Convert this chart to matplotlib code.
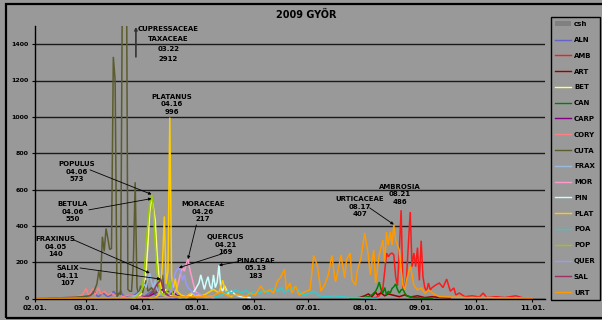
"""Daily pollen concentrations, Győr 2009."""

import matplotlib
matplotlib.use('Agg')
import matplotlib.pyplot as plt
from matplotlib.lines import Line2D
from matplotlib.patches import Patch, Rectangle

# --- data (day of year -> pollen grains / m3) ---------------------------------
aln_days = [40, 50, 58, 60, 62, 63, 64, 65, 66, 67, 68, 69, 70, 72, 74, 75, 76, 77, 78, 79,
            80, 82, 84, 86, 88, 90, 92, 94, 96, 98, 100, 104, 110]
aln = [2, 5, 5, 5, 10, 25, 40, 35, 15, 10, 20, 35, 25, 10, 20, 40, 30, 15, 20, 45,
       20, 10, 20, 15, 30, 20, 10, 25, 40, 20, 10, 5, 0]

amb_days = [215, 219, 221, 223, 224, 225, 226, 227, 228, 229, 230, 231, 232, 233, 234, 235,
            236, 237, 238, 239, 240, 241, 242, 243, 244, 245, 246, 247, 248, 249, 250, 252,
            254, 256, 258, 259, 260, 262, 263, 265, 268, 272, 276, 278, 280, 285, 290, 296,
            300, 305]
amb = [2, 5, 15, 60, 150, 250, 230, 245, 250, 240, 120, 70, 260, 486, 60, 60,
       120, 300, 476, 175, 250, 175, 280, 100, 318, 120, 60, 40, 85, 47, 60, 74,
       85, 60, 107, 74, 40, 58, 20, 30, 10, 15, 8, 30, 5, 10, 5, 15,
       3, 2]

art_days = [205, 210, 213, 215, 217, 219, 220, 222, 224, 226, 228, 230, 232, 235, 238, 242,
            246, 250, 255, 260]
art = [2, 5, 15, 25, 10, 35, 20, 30, 15, 25, 20, 15, 10, 20, 8, 15,
       5, 10, 5, 3]

bet_days = [86, 88, 90, 92, 93, 94, 95, 96, 97, 98, 99, 100, 101, 102, 104, 106, 108, 112]
bet = [0, 10, 20, 60, 150, 300, 480, 550, 500, 430, 250, 120, 60, 30, 50, 20, 10, 5]

can_days = [205, 212, 215, 217, 219, 220, 221, 222, 223, 224, 225, 226, 227, 228, 229, 230,
            231, 232, 233, 234, 235, 236, 238, 240, 245, 250]
can = [0, 5, 10, 20, 40, 60, 90, 50, 30, 60, 20, 40, 30, 55, 65, 80,
       50, 30, 47, 52, 30, 15, 10, 5, 2, 0]

carp_days = [90, 95, 98, 100, 102, 103, 105, 108, 110, 112, 115]
carp = [5, 15, 30, 40, 50, 30, 20, 35, 15, 10, 5]

cory_days = [45, 50, 55, 58, 60, 61, 62, 63, 64, 65, 66, 67, 68, 70, 72, 74, 76, 78, 80, 84, 88, 92]
cory = [0, 5, 10, 20, 55, 30, 10, 45, 55, 20, 35, 60, 25, 40, 20, 30, 15, 25, 10, 20, 10, 5]

cuta_days = [32, 40, 50, 58, 62, 64, 66, 67, 68, 69, 70, 71, 72, 73, 74, 75, 76, 77, 78, 79,
             80, 81, 82, 83, 84, 85, 86, 87, 88, 89, 90, 91, 93, 94, 96, 98, 100, 102, 103,
             105, 108, 112, 120]
cuta = [0, 2, 5, 10, 15, 30, 80, 150, 100, 340, 260, 385, 330, 270, 275, 1330, 1200, 10, 30, 20,
        1800, 2912, 2400, 50, 40, 40, 200, 640, 60, 20, 70, 30, 100, 40, 60, 25, 90, 130, 30,
        40, 15, 10, 0]

frax_days = [85, 88, 90, 92, 93, 94, 95, 96, 97, 98, 99, 100, 102, 104, 108]
frax = [5, 20, 40, 80, 60, 110, 140, 90, 60, 100, 50, 30, 20, 10, 5]

mor_days = [105, 108, 110, 112, 113, 114, 115, 116, 117, 118, 119, 120, 122, 125, 130]
mor = [5, 20, 60, 140, 170, 150, 190, 217, 160, 120, 80, 40, 20, 10, 5]

pin_days = [115, 118, 120, 122, 123, 124, 125, 126, 127, 128, 129, 130, 131, 132, 133, 134,
            135, 136, 137, 138, 140, 142, 145, 150]
pin = [5, 20, 50, 85, 130, 90, 50, 90, 120, 70, 50, 130, 60, 90, 183, 60,
       40, 70, 50, 30, 40, 20, 10, 5]

plat_days = [95, 98, 100, 101, 102, 103, 104, 105, 106, 107, 108, 109, 110, 112, 115, 118,
             120, 125, 130, 133, 135, 136, 138, 140]
plat = [0, 5, 20, 60, 200, 452, 80, 150, 996, 120, 60, 110, 40, 20, 10, 30,
        15, 20, 50, 30, 100, 60, 20, 10]

poa_days = [130, 135, 138, 140, 142, 145, 148, 150, 152, 155, 158, 160, 162, 165, 167, 169,
            172, 175, 178, 180, 183, 185, 188, 192, 196, 200, 205, 210, 220]
poa = [5, 20, 40, 30, 50, 30, 45, 25, 40, 30, 45, 30, 55, 40, 60, 35,
       50, 65, 30, 20, 30, 40, 15, 10, 15, 10, 5, 5, 0]

pop_days = [85, 88, 90, 91, 92, 93, 94, 95, 96, 97, 98, 99, 100, 101, 102, 104, 106, 107,
            108, 110, 115]
pop = [0, 10, 30, 60, 150, 300, 420, 520, 573, 480, 300, 150, 80, 40, 20, 30, 100, 40,
       20, 10, 5]

quer_days = [105, 107, 108, 109, 110, 111, 112, 113, 114, 115, 116, 118, 120, 122, 125, 130]
quer = [10, 50, 100, 140, 160, 169, 150, 100, 130, 80, 60, 40, 20, 30, 10, 5]

sal_days = [92, 95, 97, 98, 99, 100, 101, 102, 103, 104, 106, 110]
sal = [5, 20, 40, 60, 80, 90, 107, 70, 40, 25, 10, 5]

urt_days = [32, 60, 100, 110, 120, 130, 134, 138, 144, 148, 150, 153, 156, 158, 161, 163,
            165, 167, 169, 170, 172, 173, 175, 177, 180, 183, 185, 187, 189, 191, 193, 195,
            196, 197, 199, 200, 202, 203, 205, 206, 208, 209, 211, 212, 213, 215, 216, 217,
            218, 219, 221, 223, 224, 225, 226, 227, 228, 229, 230, 232, 233, 234, 235, 236,
            238, 239, 240, 242, 244, 246, 248, 251, 254, 260, 270, 280, 290, 305]
urt = [0, 2, 5, 8, 10, 15, 37, 15, 20, 10, 30, 20, 69, 35, 47, 30,
       93, 120, 160, 47, 85, 30, 69, 20, 36, 47, 237, 182, 40, 74, 130, 237,
       157, 91, 185, 240, 113, 212, 250, 102, 74, 157, 223, 295, 360, 240, 130, 200,
       267, 85, 240, 322, 200, 366, 295, 366, 295, 407, 322, 267, 157, 74, 47, 102,
       179, 130, 74, 47, 58, 30, 47, 25, 10, 8, 5, 5, 3, 3]

series = [
    ('ALN', aln_days, aln, '#6464c8'),
    ('AMB', amb_days, amb, '#ff1a1a'),
    ('ART', art_days, art, '#990000'),
    ('BET', bet_days, bet, '#ffff80'),
    ('CAN', can_days, can, '#008000'),
    ('CARP', carp_days, carp, '#800080'),
    ('CORY', cory_days, cory, '#ff8080'),
    ('CUTA', cuta_days, cuta, '#5c5c2e'),
    ('FRAX', frax_days, frax, '#99bbdd'),
    ('MOR', mor_days, mor, '#ff99cc'),
    ('PIN', pin_days, pin, '#ccffff'),
    ('PLAT', plat_days, plat, '#ffcc00'),
    ('POA', poa_days, poa, '#33cccc'),
    ('POP', pop_days, pop, '#99cc00'),
    ('QUER', quer_days, quer, '#9999ff'),
    ('SAL', sal_days, sal, '#993366'),
    ('URT', urt_days, urt, '#ff9900'),
]

month_days = [32, 60, 91, 121, 152, 182, 213, 244, 274, 305]
month_labels = ['02.01.', '03.01.', '04.01.', '05.01.', '06.01.', '07.01.', '08.01.',
                '09.01.', '10.01.', '11.01.']

# peak labels: name, date, value, day of peak
peak_names = ['CUPRESSACEAE\nTAXACEAE', 'PLATANUS', 'POPULUS', 'BETULA', 'FRAXINUS', 'SALIX',
              'MORACEAE', 'QUERCUS', 'PINACEAE', 'URTICACEAE', 'AMBROSIA']
peak_dates = ['03.22', '04.16', '04.06', '04.06', '04.05', '04.11', '04.26', '04.21', '05.13',
              '08.17', '08.21']
peak_values = [2912, 996, 573, 550, 140, 107, 217, 169, 183, 407, 486]
peak_days = [81, 106, 96, 96, 95, 101, 116, 111, 133, 229, 233]

BG = '#999999'
plt.rcParams['font.family'] = 'DejaVu Sans'
plt.rcParams['font.weight'] = 'bold'

fig = plt.figure(figsize=(6.02, 3.20), dpi=100, facecolor=BG)
ax = fig.add_axes([35 / 602, 21.5 / 320, 510 / 602, 272.5 / 320])
ax.set_facecolor(BG)

for name, d, v, c in series:
    ax.plot(d, v, color=c, lw=1.1, solid_joinstyle='miter')

ax.set_xlim(32, 312)
ax.set_ylim(0, 1500)
ax.set_xticks(month_days)
ax.set_xticklabels(month_labels)
ax.set_yticks(range(0, 1401, 200))
ax.tick_params(axis='x', labelsize=5, length=2.5, width=0.8, pad=2)
ax.tick_params(axis='y', labelsize=4.5, length=2.5, width=0.8, pad=2)
for lbl in ax.get_xticklabels() + ax.get_yticklabels():
    lbl.set_fontweight('bold')
ax.grid(True, axis='y', color='#1a1a1a', lw=1.0)
ax.set_axisbelow(True)
for side in ('top', 'right'):
    ax.spines[side].set_visible(False)
for side in ('left', 'bottom'):
    ax.spines[side].set_linewidth(1.0)
    ax.spines[side].set_color('black')

fig.text(306 / 602, 1 - 15 / 320, '2009 GYÖR', ha='center', va='center',
         fontsize=7, fontweight='bold')

# text block centres and arrow tails for the peak labels
text_pos = [(105.2, 1399), (107.0, 1070), (54.9, 697), (52.6, 478), (43.2, 285), (49.8, 124),
            (124.1, 478), (136.6, 295), (153.2, 166), (210.2, 506), (232.1, 574)]
arrow_tail = [(87.4, 1330), None, (62.2, 708), (61.6, 488), (53.4, 322), (56.7, 168),
              (120.6, 405), (134.4, 245), (143.8, 203), (215.7, 499), None]

for i, name in enumerate(peak_names):
    tx, ty = text_pos[i]
    spacing = 1.8 if i == 0 else 1.3
    ax.text(tx, ty, f'{name}\n{peak_dates[i]}\n{peak_values[i]}', ha='center', va='center',
            fontsize=5, fontweight='bold', linespacing=spacing)
    tail = arrow_tail[i]
    if tail is None:
        continue
    if i == 0:
        # the peak is above the axis, so the arrow points straight up
        tip = (tail[0], 1495)
        props = dict(arrowstyle='-|>', color='#333333', lw=1.2, mutation_scale=4,
                     shrinkA=0, shrinkB=0)
    else:
        tip = (peak_days[i], peak_values[i])
        props = dict(arrowstyle='-|>', color='black', lw=0.6, mutation_scale=4,
                     shrinkA=0, shrinkB=0)
    ax.annotate('', xy=tip, xytext=tail, arrowprops=props)

handles = [Patch(facecolor='#808080', edgecolor='none', label='csh')]
for name, d, v, c in series:
    handles.append(Line2D([0], [0], color=c, lw=1.0, label=name))
leg = fig.legend(handles=handles, loc='upper left',
                 bbox_to_anchor=(551 / 602, 1 - 17 / 320, 49 / 602, 0), mode='expand',
                 fontsize=5, frameon=True, fancybox=False, edgecolor='black', facecolor=BG,
                 framealpha=1, labelspacing=1.41, handlelength=2.3, handletextpad=0.4,
                 borderpad=0.6, borderaxespad=0)
leg.get_frame().set_linewidth(1.0)
for t in leg.get_texts():
    t.set_fontweight('bold')

# outer chart frame
fig.patches.append(Rectangle((6 / 602, 2 / 320), 1.0, 314 / 320, transform=fig.transFigure,
                             fill=False, edgecolor='black', lw=1.6))

fig.savefig('out.png', dpi=100, facecolor=BG)
